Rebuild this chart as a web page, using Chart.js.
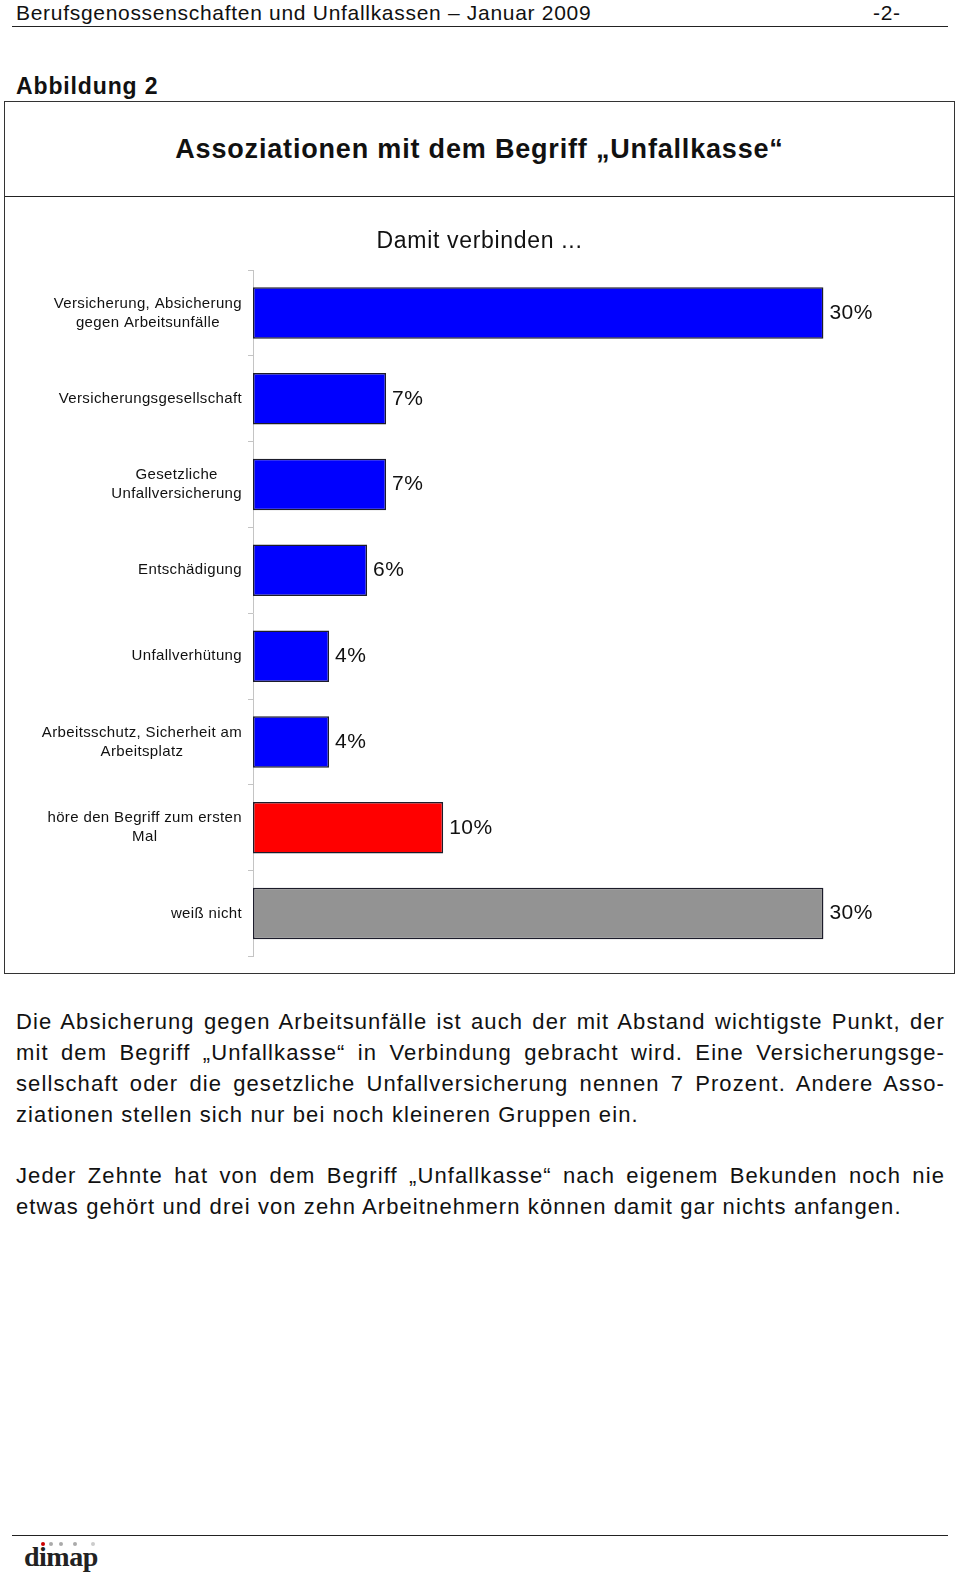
<!DOCTYPE html>
<html>
<head>
<meta charset="utf-8">
<script src="https://cdn.jsdelivr.net/npm/chart.js"></script>
<style>
  body{margin:0;background:#fff;font-family:"Liberation Sans",Arial,sans-serif;color:#111;}
  .page{position:relative;width:960px;height:1574px;}
  .abs{position:absolute;white-space:nowrap;}
  .hline{position:absolute;height:0;border-top:1.5px solid #222;}
  .para{font-size:22px;line-height:31px;letter-spacing:1.1px;}
  .para div{text-align:justify;text-align-last:justify;height:31px;}
  .para div.last{text-align-last:left;}
  .dot{position:absolute;width:4px;height:4px;border-radius:50%;background:#aaa;}
</style>
</head>
<body>
<div class="page">
  <div class="abs" style="left:16px;top:1px;font-size:21px;letter-spacing:0.7px;">Berufsgenossenschaften und Unfallkassen – Januar 2009</div>
  <div class="abs" style="left:873px;top:1px;font-size:21px;letter-spacing:0.7px;">-2-</div>
  <div class="hline" style="left:12px;top:26px;width:936px;"></div>

  <div class="abs" style="left:16px;top:73px;font-size:23px;font-weight:bold;letter-spacing:0.87px;">Abbildung 2</div>

  <div style="position:absolute;left:4px;top:101px;width:949px;height:871px;border:1.5px solid #333;">
    <div class="abs" style="left:0;width:949px;top:32px;text-align:center;font-size:27px;font-weight:bold;letter-spacing:0.82px;">Assoziationen mit dem Begriff „Unfallkasse“</div>
    <div class="hline" style="left:0;top:94px;width:949px;"></div>
    <canvas id="myChart" width="949" height="776" style="position:absolute;left:0;top:95px;"></canvas>
  </div>

  <div class="para" style="position:absolute;left:16px;top:1006px;width:929px;">
    <div>Die Absicherung gegen Arbeitsunfälle ist auch der mit Abstand wichtigste Punkt, der</div>
    <div>mit dem Begriff „Unfallkasse“ in Verbindung gebracht wird. Eine Versicherungsge-</div>
    <div>sellschaft oder die gesetzliche Unfallversicherung nennen 7 Prozent. Andere Asso-</div>
    <div class="last">ziationen stellen sich nur bei noch kleineren Gruppen ein.</div>
  </div>
  <div class="para" style="position:absolute;left:16px;top:1160px;width:929px;">
    <div>Jeder Zehnte hat von dem Begriff „Unfallkasse“ nach eigenem Bekunden noch nie</div>
    <div class="last">etwas gehört und drei von zehn Arbeitnehmern können damit gar nichts anfangen.</div>
  </div>

  <div class="hline" style="left:12px;top:1535px;width:936px;"></div>
  <div class="abs" style="left:24px;top:1541px;font-family:'Liberation Serif',serif;font-weight:bold;font-size:28px;letter-spacing:-0.5px;color:#222;">dimap</div>
  <span class="dot" style="left:41px;top:1542px;background:#c00;"></span>
  <span class="dot" style="left:49px;top:1542px;"></span>
  <span class="dot" style="left:59px;top:1542px;"></span>
  <span class="dot" style="left:73px;top:1542px;"></span>
  <span class="dot" style="left:91px;top:1542px;background:#ccc;"></span>
</div>

<script>
const categories=[
    ['Versicherung, Absicherung','gegen Arbeitsunfälle'],
    'Versicherungsgesellschaft',
    ['Gesetzliche','Unfallversicherung'],
    'Entschädigung',
    'Unfallverhütung',
    ['Arbeitsschutz, Sicherheit am','Arbeitsplatz'],
    ['höre den Begriff zum ersten','Mal'],
    'weiß nicht'
];
const values=[30,7,7,6,4,4,10,30];
const barColors=['#0000ff','#0000ff','#0000ff','#0000ff','#0000ff','#0000ff','#ff0000','#939393'];

// wider letter spacing like the original print
const spacing={
    id:'spacing',
    beforeDraw(chart){chart.ctx.letterSpacing='0.68px';}
};

// category labels: lines centred on each other, block right-aligned to the axis
const catLabels={
    id:'catLabels',
    afterDraw(chart){
        const c=chart.ctx, ys=chart.scales.y, left=chart.chartArea.left;
        c.save();
        c.letterSpacing='0.36px';
        c.font='15px "Liberation Sans", Arial, sans-serif';
        c.fillStyle='#111';
        c.textAlign='center';
        c.textBaseline='middle';
        categories.forEach((lab,i)=>{
            const lines=Array.isArray(lab)?lab:[lab];
            const w=Math.max(...lines.map(l=>c.measureText(l).width));
            const cx=left-11-w/2;
            const y0=ys.getPixelForValue(i)-(lines.length-1)*19/2;
            lines.forEach((l,k)=>c.fillText(l,cx,y0+k*19));
        });
        c.restore();
    }
};

const valueLabels={
    id:'valueLabels',
    afterDatasetsDraw(chart){
        const c=chart.ctx, meta=chart.getDatasetMeta(0);
        c.save();
        c.letterSpacing='0.5px';
        c.font='21px "Liberation Sans", Arial, sans-serif';
        c.fillStyle='#111';
        c.textAlign='left';
        c.textBaseline='middle';
        meta.data.forEach((bar,i)=>{
            c.fillText(values[i]+'%',bar.x+6,bar.y);
        });
        c.restore();
    }
};

const ctx=document.getElementById('myChart').getContext('2d');
const chart=new Chart(ctx,{
    type:'bar',
    data:{
        labels:categories,
        datasets:[{
            data:values,
            backgroundColor:barColors,
            borderColor:'#1c1c2a',
            borderWidth:1.5,
            borderSkipped:false,
            barPercentage:0.6,
            categoryPercentage:1,
        }],
    },
    options:{
        indexAxis:'y',
        responsive:false,
        animation:false,
        layout:{padding:{left:16.5,right:16.5,top:0,bottom:16.5}},
        plugins:{
            legend:{display:false},
            tooltip:{enabled:false},
            title:{
                display:true,
                text:'Damit verbinden ...',
                color:'#111',
                font:{family:'"Liberation Sans", Arial, sans-serif',size:23,weight:'normal'},
                padding:{top:30.7,bottom:14.7},
            },
        },
        scales:{
            x:{display:false,min:0,max:36},
            y:{
                afterFit(s){s.width=231.5;},
                ticks:{display:false},
                grid:{offset:true,drawOnChartArea:false,tickLength:5,color:'#c4c4c4'},
                border:{color:'#c4c4c4',width:1},
            },
        },
    },
    plugins:[spacing,catLabels,valueLabels],
});
</script>
</body>
</html>
